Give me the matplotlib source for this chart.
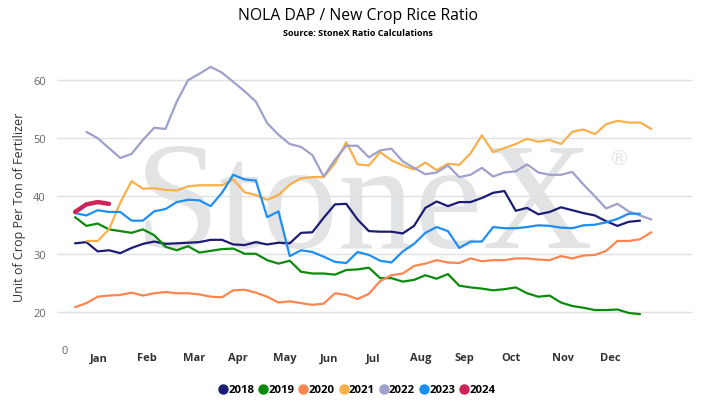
import matplotlib
matplotlib.use("Agg")
import matplotlib.pyplot as plt
from matplotlib.lines import Line2D

plt.rcParams['font.family'] = ['Open Sans', 'DejaVu Sans']

# weekly ratio values (week index 0..51)
y2018 = [31.9, 32.1, 30.5, 30.7, 30.2, 31.1, 31.8, 32.2, 31.8, 31.9, 32.0, 32.1, 32.5,
         32.5, 31.7, 31.6, 32.1, 31.7, 32.0, 31.9, 33.7, 33.8, 36.3, 38.6, 38.7, 36.0,
         34.0, 33.9, 33.9, 33.6, 34.9, 38.0, 39.1, 38.3, 39.0, 39.0, 39.7, 40.6, 40.9,
         37.5, 38.0, 36.9, 37.3, 38.1, 37.6, 37.1, 36.7, 35.7, 34.9, 35.6, 35.8]
y2019 = [36.4, 34.9, 35.3, 34.3, 34.0, 33.7, 34.3, 33.3, 31.3, 30.7, 31.4, 30.3, 30.6,
         30.9, 31.0, 30.1, 30.1, 29.0, 28.4, 28.9, 27.0, 26.7, 26.7, 26.5, 27.3, 27.4,
         27.7, 25.9, 25.9, 25.3, 25.6, 26.4, 25.8, 26.6, 24.6, 24.3, 24.1, 23.8, 24.0,
         24.3, 23.3, 22.7, 22.9, 21.7, 21.1, 20.8, 20.4, 20.4, 20.5, 19.9, 19.7]
y2020 = [20.9, 21.6, 22.7, 22.9, 23.0, 23.4, 22.9, 23.3, 23.5, 23.3, 23.3, 23.1, 22.7,
         22.6, 23.8, 23.9, 23.4, 22.7, 21.7, 21.9, 21.6, 21.3, 21.5, 23.3, 23.0, 22.3,
         23.2, 25.4, 26.4, 26.7, 28.0, 28.4, 29.0, 28.6, 28.5, 29.3, 28.8, 29.0, 29.0,
         29.3, 29.3, 29.1, 29.0, 29.7, 29.3, 29.8, 29.9, 30.6, 32.3, 32.3, 32.6, 33.8]
y2021 = [None, 32.3, 32.3, 34.3, 38.9, 42.6, 41.3, 41.4, 41.1, 41.0, 41.7, 41.9, 41.9,
         41.9, 42.9, 40.7, 40.2, 39.4, 40.2, 42.0, 43.1, 43.3, 43.3, 45.7, 49.3, 45.5,
         45.3, 47.6, 46.2, 45.3, 44.6, 45.8, 44.5, 45.6, 45.4, 47.4, 50.5, 47.6, 48.3,
         49.0, 49.9, 49.4, 49.7, 49.0, 51.1, 51.5, 50.7, 52.4, 53.0, 52.7, 52.7, 51.6]
y2022 = [None, 51.1, 50.0, 48.3, 46.6, 47.3, 49.7, 51.8, 51.6, 56.3, 60.0, 61.1, 62.3,
         61.3, 59.7, 58.1, 56.3, 52.6, 50.6, 49.0, 48.5, 47.1, 43.4, 46.3, 48.7, 48.7,
         46.7, 47.9, 48.2, 46.0, 44.9, 43.8, 44.1, 45.3, 43.3, 43.7, 44.9, 43.4, 44.1,
         44.3, 45.5, 44.1, 43.7, 43.7, 44.2, 42.0, 40.0, 37.9, 38.7, 37.4, 36.7, 36.0]
y2023 = [37.1, 36.7, 37.6, 37.3, 37.3, 35.8, 35.8, 37.4, 37.8, 39.0, 39.4, 39.3, 38.3,
         40.6, 43.7, 42.9, 42.7, 36.4, 37.4, 29.7, 30.7, 30.4, 29.6, 28.7, 28.5, 30.4,
         29.9, 28.9, 28.6, 30.5, 31.8, 33.7, 34.7, 34.0, 31.1, 32.2, 32.2, 34.7, 34.5,
         34.5, 34.7, 35.0, 34.9, 34.6, 34.5, 35.0, 35.1, 35.5, 36.1, 37.0, 37.0]
y2024 = [37.3, 38.6, 39.0, 38.7]

years = ['2018', '2019', '2020', '2021', '2022', '2023', '2024']
series = [y2018, y2019, y2020, y2021, y2022, y2023, y2024]
colors = ['#1c1c74', '#0b8a0b', '#fe8550', '#f8b04c', '#9fa0cb', '#1f8ef1', '#cc2457']

months = ['Jan', 'Feb', 'Mar', 'Apr', 'May', 'Jun', 'Jul', 'Aug', 'Sep', 'Oct', 'Nov', 'Dec']
month_pos = [2.1, 6.4, 10.5, 14.4, 18.6, 22.5, 26.4, 30.6, 34.5, 38.6, 43.2, 47.4]

fig = plt.figure(figsize=(7.15, 4.14), dpi=100)
ax = fig.add_axes([57 / 715, 1 - 352 / 414, 635 / 715, 290 / 414])

# watermark
ax.text(0.484, 0.36, 'StoneX', transform=ax.transAxes, fontsize=110,
        family='Liberation Serif', color='#e2e3e5', ha='center', va='baseline', zorder=0)
ax.text(0.885, 0.665, '®', transform=ax.transAxes, fontsize=15,
        family='DejaVu Sans', color='#e2e3e5', ha='center', va='center', zorder=0)

for yr, vals, c in zip(years, series, colors):
    xs = [i for i, v in enumerate(vals) if v is not None]
    ys = [v for v in vals if v is not None]
    lw = 3.2 if yr == '2024' else 1.6
    ax.plot(xs, ys, color=c, lw=lw, zorder=3, solid_capstyle='round')

ax.set_xlim(-1.6, 54.6)
ax.set_ylim(13.35, 63.3)
ax.set_yticks([20, 30, 40, 50, 60])
ax.yaxis.grid(True, color='#e0e0e0', lw=1)
ax.set_axisbelow(True)
ax.tick_params(axis='y', length=0, pad=8, labelsize=8, labelcolor='#666666')
ax.set_xticks(month_pos)
ax.set_xticklabels(months, fontweight='bold', fontsize=8, color='#333333')
ax.tick_params(axis='x', length=0, pad=1)
for s in ax.spines.values():
    s.set_visible(False)
fig.text(65 / 715, 1 - 352 / 414, '0', ha='center', va='center',
         fontsize=8, color='#666666')

ax.set_ylabel('Unit of Crop Per Ton of Fertilizer', fontsize=9, color='#333333', labelpad=5)

fig.text(0.5, 1 - 16 / 414, 'NOLA DAP / New Crop Rice Ratio', ha='center', va='center',
         fontsize=11.3, color='#000000')
fig.text(0.5, 1 - 34 / 414, 'Source: StoneX Ratio Calculations', ha='center', va='center',
         fontsize=6.5, fontweight='bold', color='#000000')

handles = [Line2D([], [], marker='o', ls='none', color=c, markersize=6.5) for c in colors]
fig.legend(handles, years, loc='center', bbox_to_anchor=(0.5, 1 - 391 / 414), ncol=7,
           frameon=False, handlelength=0.6, handletextpad=0.15, columnspacing=0.5,
           prop={'weight': 'bold', 'size': 8.2})

fig.savefig('out.png', dpi=100)
